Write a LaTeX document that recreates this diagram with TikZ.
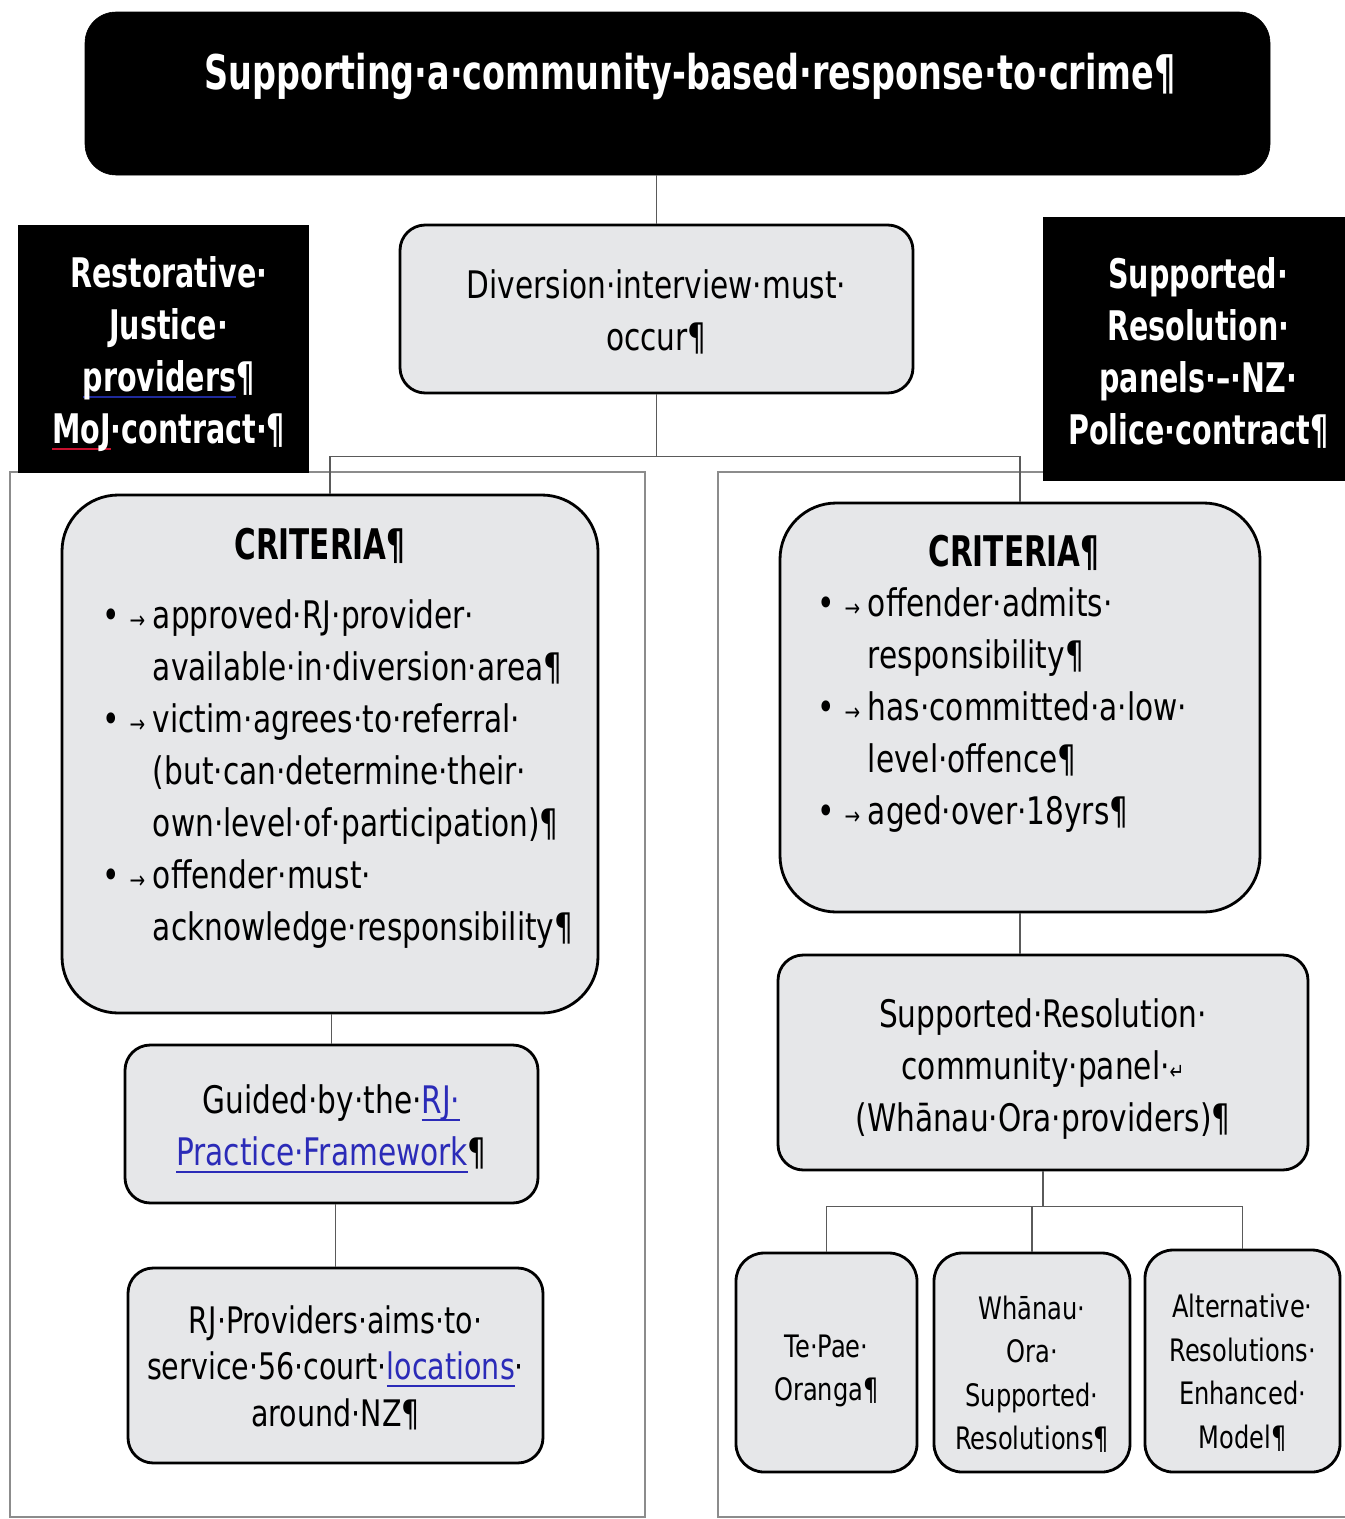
\documentclass[tikz,border=0pt]{standalone}
\usepackage{fontspec}
\setmainfont{DejaVu Sans}[FakeStretch=0.78, BoldFeatures={FakeStretch=0.7}]
\usepackage{tikz}
\usetikzlibrary{fit}
\definecolor{boxgray}{HTML}{E6E7E9}
\definecolor{linkblue}{HTML}{2B2BB8}
\definecolor{panelgray}{HTML}{8C8C8C}
\definecolor{linkgray}{HTML}{5A5A5A}
\definecolor{spellred}{HTML}{C8102E}
\definecolor{grammarblue}{HTML}{1F2A9C}
\tikzset{
  graybox/.style={draw=black, line width=2pt, fill=boxgray, rounded corners=18pt, inner sep=0pt},
  blackbox/.style={draw=black, fill=black, inner sep=0pt},
  boxtext/.style={align=center, inner sep=0pt, font=\fontsize{27}{37}\selectfont},
  smalltext/.style={align=center, inner sep=0pt, font=\fontsize{22}{31}\selectfont},
  whitetext/.style={align=center, inner sep=0pt, text=white, font=\fontsize{29}{37}\selectfont\bfseries},
  panel/.style={draw=panelgray, line width=1.2pt},
  link/.style={draw=linkgray, line width=1pt},
  listtext/.style={align=left, inner sep=0pt, font=\fontsize{27}{37}\selectfont},
  heading/.style={font=\fontsize{30}{37}\selectfont\bfseries},
}
\newcommand{\bul}{\makebox[36pt][l]{•\hspace{7pt}{\fontsize{17}{17}\selectfont →}}}
\newcommand{\ind}{\hspace*{36pt}}
% text with a coloured line under it
\newsavebox{\markbox}
\newcommand{\marked}[3]{\leavevmode\sbox{\markbox}{\textcolor{#2}{#3}}\rlap{\color{#1}\rule[-5pt]{\wd\markbox}{1.6pt}}\usebox{\markbox}}
\newcommand{\lnk}[1]{\marked{linkblue}{linkblue}{#1}}

\begin{document}
\begin{tikzpicture}[x=0.025cm, y=-0.025cm]
  \useasboundingbox (0,0) rectangle (1345,1519);

  % the two panels behind the columns
  \draw[panel] (10,1517) -- (10,472) -- (645,472) -- (645,1517) -- cycle;
  \draw[panel] (1345,1517) -- (718,1517) -- (718,472) -- (1043,472);

  % top
  \node[blackbox, rounded corners=22pt, fit={(85,12) (1270,175)}] (title) {};
  \node[text=white, font=\fontsize{34}{40}\selectfont\bfseries] (titletext) at (690,76) {Supporting·a·community-based·response·to·crime¶};

  \node[blackbox, fit={(18,225) (308,472)}] (rjhead) {};
  \node[whitetext, xshift=4pt, yshift=-3.8pt] (rjheadtext) at (rjhead) {Restorative·\\Justice·\\\marked{grammarblue}{white}{providers}¶\\\marked{spellred}{white}{MoJ}·contract·¶};
  \node[blackbox, fit={(1043,217) (1345,480)}] (srhead) {};
  \node[whitetext, xshift=3pt, yshift=-3pt] (srheadtext) at (srhead) {Supported·\\Resolution·\\panels·--·NZ·\\Police·contract¶};

  \node[graybox, fit={(400,225) (913,393)}] (div) {};
  \node[boxtext, yshift=-2.4pt] (divtext) at (div) {Diversion·interview·must·\\occur¶};

  % left column
  \node[graybox, rounded corners=40pt, fit={(62,495) (598,1013)}] (critL) {};
  \node[heading] (critLhead) at (320,546) {CRITERIA¶};
  \node[listtext, anchor=north west] (critLlist) at (102,599) {%
    \bul approved·RJ·provider·\\
    \ind available·in·diversion·area¶\\
    \bul victim·agrees·to·referral·\\
    \ind (but·can·determine·their·\\
    \ind own·level·of·participation)¶\\
    \bul offender·must·\\
    \ind acknowledge·responsibility¶};

  \node[graybox, fit={(125,1045) (538,1203)}] (guide) {};
  \node[boxtext, yshift=-3.6pt] (guidetext) at (guide) {Guided·by·the·\lnk{RJ·}\\\lnk{Practice·Framework}¶};
  \node[graybox, fit={(128,1268) (543,1463)}] (rjprov) {};
  \node[boxtext, yshift=-1.5pt, font=\fontsize{26}{33}\selectfont] (rjprovtext) at (rjprov) {RJ·Providers·aims·to·\\service·56·court·\lnk{locations}·\\around·NZ¶};

  % right column
  \node[graybox, rounded corners=40pt, fit={(780,503) (1260,912)}] (critR) {};
  \node[heading] (critRhead) at (1014,553) {CRITERIA¶};
  \node[listtext, anchor=north west] (critRlist) at (817,587) {%
    \bul offender·admits·\\
    \ind responsibility¶\\
    \bul has·committed·a·low·\\
    \ind level·offence¶\\
    \bul aged·over·18yrs¶};

  \node[graybox, fit={(778,955) (1308,1170)}] (srp) {};
  \node[boxtext, yshift=-4.4pt] (srptext) at (srp) {Supported·Resolution·\\community·panel·{\fontsize{16}{16}\selectfont ↵}\\(Whānau·Ora·providers)¶};

  \node[graybox, rounded corners=20pt, fit={(736,1253) (917,1472)}] (tepae) {};
  \node[smalltext, yshift=-6.1pt] (tepaetext) at (tepae) {Te·Pae·\\Oranga¶};
  \node[graybox, rounded corners=20pt, fit={(934,1253) (1130,1472)}] (whanau) {};
  \node[smalltext, yshift=-8.3pt] (whanautext) at (whanau) {Whānau·\\Ora·\\Supported·\\Resolutions¶};
  \node[graybox, rounded corners=20pt, fit={(1145,1250) (1340,1472)}] (alt) {};
  \node[smalltext, yshift=-8.3pt] (alttext) at (alt) {Alternative·\\Resolutions·\\Enhanced·\\Model¶};

  % connectors
  \draw[link] (div.north) -- (div.north |- title.south);
  \draw[link] (div.south) -- ++(0,62) coordinate (split);
  \draw[link] (critL.north) |- (split) -| (critR.north);
  \draw[link] (guide.north) -- (guide.north |- critL.south);
  \draw[link] (rjprov.north) -- (rjprov.north |- guide.south);
  \draw[link] (critR.south) -- (critR.south |- srp.north);
  \draw[link] (srp.south) -- ++(0,35) coordinate (fork);
  \draw[link] (tepae.north) |- (fork) -| (alt.north);
  \draw[link] (whanau.north) -- (whanau.north |- fork);
\end{tikzpicture}
\end{document}
